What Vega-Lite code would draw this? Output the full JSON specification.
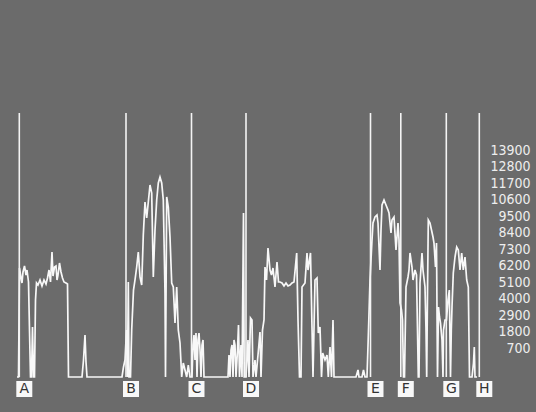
{
  "$schema": "https://vega.github.io/schema/vega-lite/v6.json",
  "width": 466,
  "height": 264,
  "autosize": "none",
  "padding": {"left": 17, "top": 113, "right": 53, "bottom": 35},
  "background": "#6b6b6b",
  "config": {
    "view": {"stroke": null}
  },
  "datasets": {
    "series": [
      {"t":0,"v":0},{"t":1.5,"v":0},{"t":2.5,"v":7267},{"t":4,"v":6600},{"t":5,"v":6267},{"t":6,"v":7000},{"t":7.5,"v":7400},{"t":9,"v":6800},{"t":10,"v":7133},{"t":11.5,"v":6333},{"t":12.5,"v":3133},{"t":13.5,"v":0},{"t":14.5,"v":0},{"t":15.5,"v":3333},{"t":16.5,"v":0},{"t":17.5,"v":0},{"t":18.5,"v":5133},{"t":19.5,"v":6267},{"t":21,"v":6133},{"t":23,"v":6467},{"t":25,"v":6067},{"t":27,"v":6467},{"t":29,"v":6200},{"t":30.5,"v":6600},{"t":32,"v":7133},{"t":33.5,"v":6333},{"t":35,"v":8333},{"t":36,"v":6733},{"t":37.5,"v":7333},{"t":39,"v":7400},{"t":40,"v":6467},{"t":41,"v":6800},{"t":42.5,"v":7600},{"t":44,"v":7000},{"t":45.5,"v":6600},{"t":47,"v":6333},{"t":49,"v":6267},{"t":50.5,"v":6200},{"t":51.5,"v":0},{"t":65,"v":0},{"t":66.5,"v":1133},{"t":68,"v":2800},{"t":69,"v":1000},{"t":70,"v":0},
      {"t":105,"v":0},{"t":106.5,"v":667},{"t":108,"v":1133},{"t":109.5,"v":3133},{"t":110.5,"v":0},{"t":111.3,"v":6333},{"t":112,"v":0},{"t":113.5,"v":0},{"t":114.7,"v":3133},{"t":116.5,"v":5800},{"t":118,"v":6467},{"t":119.7,"v":7333},{"t":121.3,"v":8333},{"t":123,"v":6667},{"t":124.7,"v":6133},{"t":126.3,"v":9467},{"t":128,"v":11667},{"t":129.7,"v":10600},{"t":131.3,"v":11667},{"t":133,"v":12800},{"t":134.7,"v":12267},{"t":136.3,"v":6667},{"t":138,"v":9800},{"t":139.7,"v":11800},{"t":141.3,"v":12933},{"t":143,"v":13333},{"t":144.7,"v":12933},{"t":146.3,"v":11800},{"t":148,"v":5600},{"t":148.5,"v":0},{"t":149.7,"v":12000},{"t":151.3,"v":11333},{"t":153,"v":9333},{"t":154.7,"v":6267},{"t":156.3,"v":6000},{"t":158,"v":3600},{"t":159.7,"v":6000},{"t":161.3,"v":3133},{"t":163,"v":2267},{"t":164.7,"v":0},{"t":166.3,"v":933},{"t":168,"v":467},{"t":169.7,"v":0},{"t":171.3,"v":800},{"t":173,"v":0},
      {"t":175,"v":0},{"t":176,"v":2133},{"t":177,"v":2800},{"t":178,"v":1133},{"t":179,"v":2933},{"t":180,"v":0},{"t":181,"v":2467},{"t":182,"v":2933},{"t":183,"v":1800},{"t":184,"v":0},{"t":185,"v":2133},{"t":186,"v":2467},{"t":187,"v":0},{"t":211,"v":0},{"t":212,"v":1467},{"t":213,"v":0},{"t":214,"v":1800},{"t":215,"v":2133},{"t":216,"v":0},{"t":217,"v":2467},{"t":218,"v":2133},{"t":219,"v":0},{"t":220.5,"v":1800},{"t":221.5,"v":3467},{"t":222.5,"v":0},{"t":224,"v":2133},{"t":225,"v":0},{"t":226.5,"v":10933},{"t":227.2,"v":0},{"t":229,"v":0},{"t":231,"v":2467},{"t":232,"v":0},{"t":233.5,"v":3933},{"t":235,"v":3800},{"t":236,"v":0},{"t":238,"v":1133},{"t":239,"v":0},{"t":241,"v":1467},{"t":243,"v":3000},{"t":244,"v":0},{"t":245.5,"v":3133},{"t":247,"v":3800},{"t":248,"v":7333},{"t":249.5,"v":6467},{"t":251,"v":8600},{"t":253,"v":7133},{"t":254.5,"v":6800},{"t":256,"v":7267},{"t":258,"v":6000},{"t":260,"v":7667},{"t":261.5,"v":6333},{"t":263,"v":6333},{"t":265,"v":6267},{"t":267,"v":6067},{"t":269,"v":6267},{"t":271,"v":6067},{"t":273,"v":6133},{"t":275,"v":6267},{"t":277,"v":6333},{"t":279.7,"v":8267},{"t":281,"v":3800},{"t":282.5,"v":0},{"t":284,"v":0},{"t":285,"v":6000},{"t":288,"v":6267},{"t":290,"v":8267},{"t":291,"v":7133},{"t":293.5,"v":8267},{"t":295,"v":3333},{"t":296,"v":0},{"t":298,"v":6467},{"t":300,"v":6600},{"t":301.3,"v":2933},{"t":303,"v":3333},{"t":304.5,"v":0},{"t":305.7,"v":1600},{"t":308,"v":1133},{"t":310,"v":1467},{"t":311.3,"v":0},{"t":313,"v":2000},{"t":314.5,"v":0},{"t":316,"v":3800},{"t":317,"v":0},{"t":339,"v":0},{"t":341,"v":467},{"t":342,"v":0},{"t":345,"v":0},{"t":346.5,"v":467},{"t":348,"v":0},{"t":350,"v":0},
      {"t":351.5,"v":3133},{"t":353,"v":6467},{"t":355,"v":9133},{"t":356,"v":10267},{"t":358,"v":10667},{"t":360,"v":10800},{"t":361,"v":10267},{"t":363,"v":7133},{"t":364,"v":9800},{"t":365,"v":11467},{"t":367,"v":11800},{"t":369,"v":11467},{"t":371,"v":11133},{"t":372,"v":10933},{"t":374,"v":9600},{"t":375,"v":10467},{"t":377,"v":10667},{"t":379,"v":8467},{"t":381,"v":10267},{"t":382,"v":9133},{"t":383,"v":4933},{"t":384.5,"v":4467},{"t":385.5,"v":3800},{"t":386.5,"v":0},{"t":387.5,"v":0},{"t":389,"v":6000},{"t":391,"v":6667},{"t":392,"v":7133},{"t":393,"v":8267},{"t":395,"v":7333},{"t":396,"v":6467},{"t":398,"v":7133},{"t":399.5,"v":6800},{"t":400.5,"v":3133},{"t":401.3,"v":0},{"t":402,"v":0},{"t":403,"v":6267},{"t":405,"v":8267},{"t":406,"v":7133},{"t":408,"v":6000},{"t":409,"v":3133},{"t":409.7,"v":0},{"t":410.5,"v":5600},{"t":411.3,"v":10467},{"t":413,"v":10267},{"t":414.5,"v":9800},{"t":416,"v":9333},{"t":417,"v":8933},{"t":418.5,"v":7333},{"t":419.5,"v":8933},{"t":420.5,"v":0},{"t":421.5,"v":4667},{"t":422.5,"v":4000},{"t":423.5,"v":3600},{"t":425,"v":2467},{"t":426,"v":0},{"t":426.5,"v":3133},{"t":428,"v":3800},{"t":429.5,"v":3800},{"t":431,"v":5133},{"t":432.3,"v":5800},{"t":433.5,"v":0},{"t":434.3,"v":3133},{"t":435,"v":4667},{"t":436.3,"v":6933},{"t":438,"v":8000},{"t":439.7,"v":8667},{"t":441.3,"v":8467},{"t":443,"v":7133},{"t":444.7,"v":8267},{"t":446.3,"v":7133},{"t":448,"v":8000},{"t":449.7,"v":6467},{"t":451.3,"v":6000},{"t":452.5,"v":0},{"t":455,"v":0},{"t":456.5,"v":933},{"t":457.3,"v":2000},{"t":458,"v":0},{"t":460,"v":0}
    ],
    "events": [
      {"t":2.3,"label":"A"},{"t":109,"label":"B"},{"t":174.5,"label":"C"},{"t":229,"label":"D"},
      {"t":353.5,"label":"E"},{"t":383.8,"label":"F"},{"t":429.3,"label":"G"},{"t":462.3,"label":"H"}
    ]
  },
  "encoding": {
    "x": {"field": "t", "type": "quantitative", "scale": {"domain": [0, 466], "nice": false, "zero": false}, "axis": null}
  },
  "resolve": {"scale": {"y": "independent"}, "axis": {"y": "independent"}},
  "layer": [
    {
      "layer": [
        {
          "data": {"name": "series"},
          "mark": {"type": "line", "color": "#f8f8f8", "strokeWidth": 1.7, "interpolate": "linear"},
          "encoding": {
            "y": {
              "field": "v", "type": "quantitative",
              "scale": {"domain": [0, 17600], "nice": false, "zero": false},
              "axis": {
                "orient": "right",
                "values": [700, 1800, 2900, 4000, 5100, 6200, 7300, 8400, 9500, 10600, 11700, 12800, 13900],
                "format": "d",
                "title": null,
                "domain": false,
                "ticks": false,
                "grid": false,
                "labelAlign": "right",
                "labelBaseline": "middle",
                "labelPadding": 47,
                "labelOffset": -18.5,
                "labelColor": "#eeeeee",
                "labelFont": "DejaVu Sans Condensed, DejaVu Sans, sans-serif",
                "labelFontSize": 14,
                "labelOverlap": false
              }
            }
          }
        },
        {
          "data": {"name": "events"},
          "mark": {"type": "rule", "color": "#f4f4f4", "strokeWidth": 1.6}
        }
      ]
    },
    {
      "data": {"name": "events"},
      "encoding": {
        "y": {"datum": -800, "scale": {"domain": [0, 17600], "nice": false, "zero": false}, "axis": null}
      },
      "layer": [
        {
          "mark": {"type": "point", "shape": "square", "filled": true, "color": "#f8f8f8", "opacity": 1, "size": 256, "xOffset": 5}
        },
        {
          "mark": {"type": "text", "color": "#333333", "font": "DejaVu Sans, sans-serif", "fontSize": 14, "xOffset": 5, "baseline": "middle", "align": "center"},
          "encoding": {"text": {"field": "label"}}
        }
      ]
    }
  ]
}
